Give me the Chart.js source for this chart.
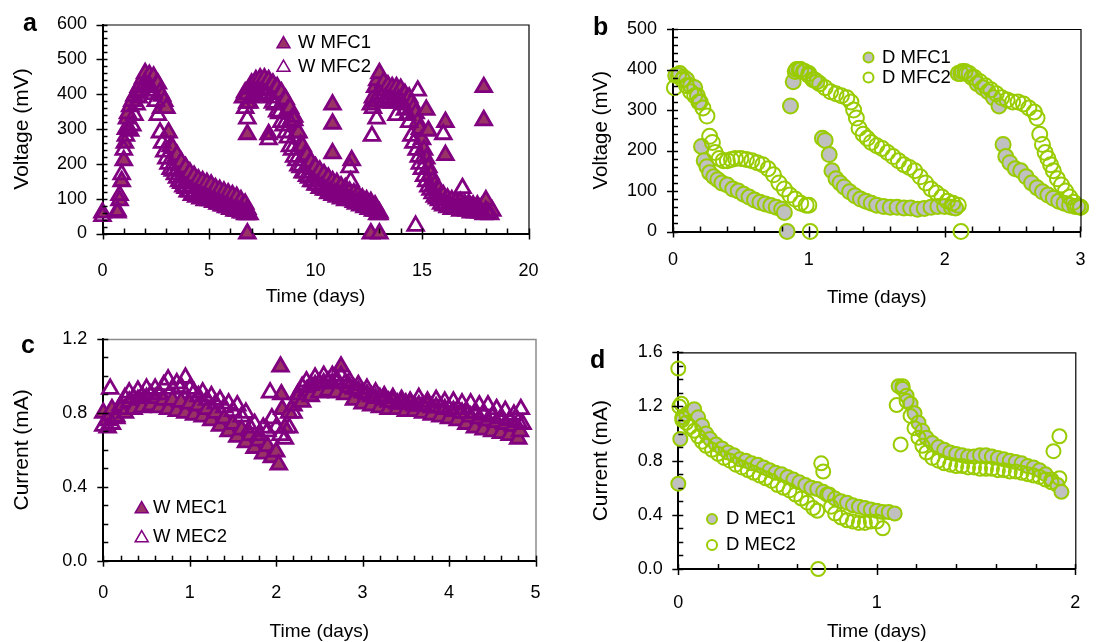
<!DOCTYPE html>
<html>
<head>
<meta charset="utf-8">
<script src="https://cdn.jsdelivr.net/npm/chart.js@4.4.1/dist/chart.umd.min.js"></script>
<style>
    html, body { margin: 0; padding: 0; background: #fff; }
    #wrap { position: relative; width: 1105px; height: 642px; overflow: hidden; }
    #wrap canvas { position: absolute; left: 0; top: 0; }
</style>
</head>
<body>
<div id="wrap">
    <canvas id="chartA" width="1105" height="642"></canvas>
    <canvas id="chartB" width="1105" height="642"></canvas>
    <canvas id="chartC" width="1105" height="642"></canvas>
    <canvas id="chartD" width="1105" height="642"></canvas>
</div>
<script>
// ---- Panel a: W MFC voltage, [days, mV] ----
const wMfc1 = [
    [0, 60], [0.7, 60], [0.8, 95], [0.9, 150], [1.0, 210], [1.05, 260], [1.1, 300], [1.15, 330], [1.2, 345],
    [1.3, 365], [1.4, 380], [1.5, 395], [1.6, 405], [1.7, 420], [1.8, 430], [1.9, 445], [2.0, 460],
    [2.1, 445], [2.2, 455], [2.3, 440], [2.4, 450], [2.5, 425], [2.6, 430], [2.7, 405], [2.75, 360],
    [2.8, 395], [2.9, 380], [3.0, 360], [3.1, 290], [3.2, 250], [3.3, 245], [3.4, 215], [3.5, 225],
    [3.6, 195], [3.7, 205], [3.8, 180], [3.9, 190], [4.0, 165], [4.1, 175], [4.2, 155], [4.3, 165],
    [4.4, 145], [4.5, 155], [4.6, 135], [4.7, 150], [4.8, 130], [4.9, 145], [5.0, 125], [5.1, 140],
    [5.2, 120], [5.3, 130], [5.4, 110], [5.5, 125], [5.6, 105], [5.7, 120], [5.8, 100], [5.9, 115],
    [6.0, 95], [6.1, 110], [6.2, 90], [6.3, 105], [6.4, 85], [6.5, 95], [6.6, 80], [6.7, 85],
    [6.8, 70], [6.9, 55],
    [6.8, 0], [6.8, 285], [6.8, 375], [7.8, 285],
    [6.6, 390], [6.7, 405], [6.8, 400], [6.9, 415], [7.0, 430], [7.1, 420], [7.2, 440], [7.3, 430],
    [7.4, 445], [7.5, 435], [7.6, 445], [7.7, 430], [7.8, 440], [7.9, 425], [8.0, 430], [8.1, 415],
    [8.2, 420], [8.3, 400], [8.4, 405], [8.5, 380], [8.6, 385], [8.7, 355], [8.8, 360], [8.9, 330],
    [9.0, 325], [9.1, 290], [9.2, 290], [9.3, 255], [9.4, 250], [9.5, 225], [9.6, 225], [9.7, 200],
    [9.8, 205], [9.9, 185], [10.0, 190], [10.1, 170], [10.2, 180], [10.3, 160], [10.4, 170], [10.5, 150],
    [10.6, 160], [10.7, 140], [10.8, 150], [10.9, 135], [11.0, 145], [11.1, 125], [11.2, 135], [11.3, 120],
    [11.4, 130], [11.5, 110], [11.6, 120], [11.7, 105], [11.8, 115], [11.9, 100], [12.0, 110], [12.1, 95],
    [12.2, 100], [12.3, 90], [12.4, 95], [12.5, 80], [12.6, 90], [12.7, 75], [12.8, 80], [12.9, 65], [13.0, 60],
    [10.8, 370], [10.8, 315], [10.8, 230], [11.7, 210], [12.6, 0], [13.0, 0],
    [12.6, 370], [12.7, 390], [12.8, 420], [12.9, 440], [13.0, 460], [13.1, 420], [13.2, 435], [13.3, 410],
    [13.4, 425], [13.5, 405], [13.6, 420], [13.7, 400], [13.8, 420], [13.9, 405], [14.0, 415], [14.1, 395],
    [14.2, 400], [14.3, 385], [14.4, 390], [14.5, 375], [14.6, 360], [14.7, 345], [14.8, 320], [14.9, 300],
    [15.0, 270], [15.1, 240], [15.2, 215], [15.3, 190], [15.4, 170], [15.5, 150], [15.6, 140], [15.7, 125],
    [15.8, 125], [15.9, 110], [16.0, 110], [16.1, 95], [16.2, 100], [16.3, 90], [16.4, 95], [16.5, 85],
    [16.6, 90], [16.7, 80], [16.8, 90], [16.9, 80], [17.0, 85], [17.1, 75], [17.2, 85], [17.3, 75],
    [17.4, 80], [17.5, 70], [17.6, 80], [17.7, 70], [17.8, 75], [17.9, 65], [18.0, 75], [18.1, 65],
    [18.2, 70], [18.3, 65],
    [15.2, 355], [15.3, 295], [16.1, 320], [16.1, 225], [17.9, 420], [17.9, 325], [18.0, 95],
];
const wMfc2 = [
    [0, 50], [0.7, 65], [0.8, 110], [0.9, 170], [1.0, 240], [1.1, 280], [1.2, 300], [1.3, 295], [1.4, 310],
    [1.5, 340], [1.6, 370], [1.7, 390], [1.8, 410], [1.9, 420], [2.0, 430], [2.1, 420], [2.2, 425],
    [2.3, 410], [2.4, 400], [2.5, 380], [2.6, 340], [2.7, 290], [2.8, 260], [2.9, 235], [3.0, 215],
    [3.1, 200], [3.2, 185], [3.3, 180], [3.4, 170], [3.5, 160], [3.6, 150], [3.7, 145], [3.8, 135],
    [3.9, 130], [4.0, 120], [4.1, 120], [4.2, 110], [4.3, 115], [4.4, 105], [4.5, 110], [4.6, 100],
    [4.7, 105], [4.8, 95], [4.9, 100], [5.0, 95], [5.1, 95], [5.2, 90], [5.3, 90], [5.4, 85], [5.5, 85],
    [5.6, 80], [5.7, 80], [5.8, 75], [5.9, 75], [6.0, 70], [6.1, 70], [6.2, 65], [6.3, 65], [6.4, 65],
    [6.5, 60], [6.6, 60], [6.7, 55], [6.8, 55],
    [6.7, 360], [6.8, 330], [6.9, 375], [7.0, 390], [7.1, 400], [7.2, 395], [7.3, 410], [7.4, 400],
    [7.5, 410], [7.6, 395], [7.7, 400], [7.8, 270], [7.9, 390], [8.0, 375], [8.1, 370], [8.2, 350],
    [8.3, 345], [8.4, 320], [8.5, 310], [8.6, 290], [8.7, 275], [8.8, 250], [8.9, 240], [9.0, 220],
    [9.1, 210], [9.2, 195], [9.3, 190], [9.4, 175], [9.5, 175], [9.6, 165], [9.7, 160], [9.8, 150],
    [9.9, 150], [10.0, 140], [10.1, 140], [10.2, 130], [10.3, 135], [10.4, 125], [10.5, 125], [10.6, 115],
    [10.7, 120], [10.8, 110], [10.9, 115], [11.0, 105], [11.1, 110], [11.2, 100], [11.3, 105], [11.4, 95],
    [11.5, 100], [11.6, 190], [11.65, 150], [11.7, 95], [11.8, 90], [11.9, 85], [12.0, 90], [12.1, 80],
    [12.2, 85], [12.3, 75], [12.4, 80], [12.5, 70], [12.6, 75], [12.7, 65], [12.8, 65], [12.9, 55], [13.0, 55],
    [8.8, 320], [9.0, 335],
    [12.65, 280], [12.7, 360], [12.8, 380], [12.87, 330], [13.0, 400], [13.1, 390], [13.2, 375], [13.3, 390],
    [13.4, 380], [13.5, 385], [13.6, 375], [13.7, 380], [13.8, 340], [13.9, 385], [14.0, 380], [14.1, 370],
    [14.2, 355], [14.3, 340], [14.4, 320], [14.5, 280], [14.6, 260], [14.7, 22], [14.75, 240], [14.8, 410],
    [14.85, 220], [14.9, 200], [15.0, 185], [15.1, 165], [15.2, 150], [15.3, 135], [15.4, 125], [15.5, 115],
    [15.6, 105], [15.7, 100], [15.8, 95], [15.9, 85], [16.0, 80], [16.0, 285], [16.1, 85], [16.2, 75],
    [16.3, 80], [16.4, 70], [16.5, 75], [16.6, 70], [16.7, 75], [16.8, 65], [16.9, 130], [17.0, 70],
    [17.1, 65], [17.2, 70], [17.3, 60], [17.4, 70], [17.5, 60], [17.6, 65], [17.7, 60], [17.8, 60],
    [17.9, 55], [18.0, 65], [18.1, 60], [18.2, 55],
];
const aXTicks = [0, 5, 10, 15, 20];
const aYTicks = [0, 100, 200, 300, 400, 500, 600];

// ---- Panel b: D MFC voltage, [days, mV] ----
const dMfc1 = [
    [0.02, 385], [0.05, 390], [0.08, 380], [0.1, 375], [0.13, 360], [0.16, 355], [0.18, 335], [0.2, 320],
    [0.21, 210], [0.23, 175], [0.25, 160], [0.27, 145], [0.3, 135], [0.33, 128], [0.36, 120], [0.4, 115],
    [0.44, 105], [0.48, 100], [0.52, 92], [0.56, 85], [0.6, 78], [0.64, 72], [0.68, 68], [0.72, 64],
    [0.76, 60], [0.8, 55], [0.82, 47], [0.84, 0], [0.865, 310], [0.885, 370],
    [0.9, 395], [0.93, 400], [0.96, 395], [1.0, 385], [1.03, 375], [1.06, 370], [1.1, 230], [1.12, 225],
    [1.15, 190], [1.17, 150], [1.2, 130], [1.23, 120], [1.26, 110], [1.3, 98], [1.34, 88], [1.38, 80],
    [1.42, 75], [1.46, 70], [1.5, 65], [1.55, 62], [1.6, 60], [1.65, 60], [1.7, 58], [1.75, 58],
    [1.8, 55], [1.85, 57], [1.9, 60], [1.95, 62], [2.0, 62], [2.05, 60], [2.08, 58],
    [2.1, 390], [2.13, 395], [2.16, 390], [2.2, 380], [2.24, 365], [2.28, 355], [2.32, 345], [2.36, 330],
    [2.4, 310], [2.43, 215], [2.45, 185], [2.48, 170], [2.52, 155], [2.56, 150], [2.6, 135], [2.64, 120],
    [2.68, 108], [2.72, 98], [2.76, 90], [2.8, 82], [2.84, 75], [2.88, 70], [2.92, 65], [2.96, 62], [3.0, 60],
];
const dMfc2 = [
    [0.01, 355], [0.04, 385], [0.07, 375], [0.1, 360], [0.13, 345], [0.16, 335], [0.19, 320], [0.22, 305],
    [0.25, 285], [0.27, 235], [0.29, 220], [0.31, 195], [0.34, 180], [0.37, 175], [0.4, 175], [0.43, 178],
    [0.46, 180], [0.5, 180], [0.54, 178], [0.58, 175], [0.62, 170], [0.66, 165], [0.7, 155], [0.74, 140],
    [0.78, 120], [0.82, 105], [0.86, 90], [0.9, 80], [0.94, 70], [0.98, 65], [1.0, 65], [1.01, 0],
    [0.91, 400], [0.94, 400], [0.97, 395], [1.0, 390], [1.04, 375], [1.08, 365], [1.12, 355], [1.16, 345],
    [1.2, 340], [1.24, 335], [1.28, 330], [1.31, 320], [1.33, 300], [1.35, 280], [1.37, 255], [1.4, 240],
    [1.43, 230], [1.46, 220], [1.5, 212], [1.54, 205], [1.58, 195], [1.62, 185], [1.66, 175], [1.7, 165],
    [1.74, 158], [1.78, 150], [1.82, 135], [1.86, 120], [1.9, 105], [1.94, 95], [1.98, 85], [2.02, 75],
    [2.06, 70], [2.1, 65], [2.12, 0],
    [2.12, 390], [2.15, 395], [2.18, 390], [2.22, 380], [2.26, 370], [2.3, 360], [2.34, 350], [2.38, 340],
    [2.42, 330], [2.46, 325], [2.5, 320], [2.54, 320], [2.58, 315], [2.62, 305], [2.66, 295], [2.68, 280],
    [2.7, 240], [2.72, 215], [2.74, 195], [2.76, 180], [2.78, 165], [2.8, 150], [2.83, 130], [2.86, 115],
    [2.89, 100], [2.92, 85], [2.95, 72], [2.98, 62], [3.0, 60],
];
const bXTicks = [0, 1, 2, 3];
const bYTicks = [0, 100, 200, 300, 400, 500];

// ---- Panel c: W MEC current, [days, mA] ----
const wMec1 = [
    [0.0, 0.80], [0.05, 0.76], [0.1, 0.82], [0.15, 0.78], [0.2, 0.84], [0.25, 0.80], [0.3, 0.86], [0.35, 0.82],
    [0.4, 0.87], [0.45, 0.83], [0.5, 0.88], [0.55, 0.84], [0.6, 0.88], [0.65, 0.83], [0.7, 0.87], [0.75, 0.82],
    [0.8, 0.87], [0.85, 0.81], [0.9, 0.86], [0.95, 0.80], [1.0, 0.85], [1.05, 0.79], [1.1, 0.84], [1.15, 0.78],
    [1.2, 0.82], [1.25, 0.76], [1.3, 0.80], [1.35, 0.73], [1.4, 0.77], [1.45, 0.70], [1.5, 0.74], [1.55, 0.67],
    [1.6, 0.71], [1.65, 0.64], [1.7, 0.68], [1.75, 0.61], [1.8, 0.65], [1.85, 0.58], [1.9, 0.62], [1.95, 0.56],
    [2.0, 0.59], [2.03, 0.52], [2.05, 1.05], [2.06, 0.90], [2.07, 0.82], [2.1, 0.72], [2.15, 0.80], [2.2, 0.84],
    [2.25, 0.88], [2.3, 0.86], [2.35, 0.92], [2.4, 0.89], [2.45, 0.95], [2.5, 0.91], [2.55, 0.96], [2.6, 0.92],
    [2.65, 0.96], [2.7, 0.91], [2.75, 1.05], [2.8, 0.90], [2.85, 0.94], [2.9, 0.87], [2.95, 0.92], [3.0, 0.85],
    [3.05, 0.90], [3.1, 0.84], [3.15, 0.88], [3.2, 0.83], [3.25, 0.87], [3.3, 0.82], [3.35, 0.86], [3.4, 0.82],
    [3.45, 0.85], [3.5, 0.81], [3.55, 0.85], [3.6, 0.81], [3.65, 0.84], [3.7, 0.80], [3.75, 0.84], [3.8, 0.79],
    [3.85, 0.83], [3.9, 0.78], [3.95, 0.82], [4.0, 0.77], [4.05, 0.81], [4.1, 0.76], [4.15, 0.80], [4.2, 0.74],
    [4.25, 0.78], [4.3, 0.72], [4.35, 0.77], [4.4, 0.71], [4.45, 0.76], [4.5, 0.70], [4.55, 0.75], [4.6, 0.69],
    [4.65, 0.74], [4.7, 0.68], [4.75, 0.73], [4.8, 0.66], [4.82, 0.70],
];
const wMec2 = [
    [0.0, 0.73], [0.05, 0.72], [0.08, 0.93], [0.1, 0.74], [0.15, 0.77], [0.2, 0.82], [0.25, 0.88], [0.3, 0.91],
    [0.35, 0.88], [0.4, 0.92], [0.45, 0.89], [0.5, 0.93], [0.55, 0.90], [0.6, 0.93], [0.65, 0.90], [0.7, 0.95],
    [0.75, 0.98], [0.8, 0.93], [0.85, 0.96], [0.9, 0.94], [0.95, 0.99], [1.0, 0.93], [1.05, 0.91], [1.1, 0.89],
    [1.15, 0.91], [1.2, 0.87], [1.25, 0.89], [1.3, 0.85], [1.35, 0.87], [1.4, 0.83], [1.45, 0.85], [1.5, 0.81],
    [1.55, 0.84], [1.6, 0.78], [1.65, 0.80], [1.7, 0.72], [1.75, 0.74], [1.8, 0.68], [1.85, 0.72], [1.9, 0.70],
    [1.93, 0.91], [1.95, 0.77], [2.0, 0.72], [2.05, 0.68], [2.1, 0.66], [2.15, 0.72], [2.2, 0.80], [2.25, 0.90],
    [2.3, 0.94], [2.35, 0.97], [2.4, 0.95], [2.45, 0.99], [2.5, 0.96], [2.55, 1.00], [2.6, 0.97], [2.65, 1.00],
    [2.7, 0.98], [2.75, 1.00], [2.8, 0.96], [2.85, 0.97], [2.9, 0.93], [2.95, 0.95], [3.0, 0.91], [3.05, 0.93],
    [3.1, 0.89], [3.15, 0.91], [3.2, 0.88], [3.25, 0.89], [3.3, 0.86], [3.35, 0.88], [3.4, 0.85], [3.45, 0.87],
    [3.5, 0.85], [3.55, 0.86], [3.6, 0.84], [3.65, 0.88], [3.7, 0.84], [3.75, 0.86], [3.8, 0.83], [3.85, 0.87],
    [3.9, 0.83], [3.95, 0.86], [4.0, 0.82], [4.05, 0.86], [4.1, 0.82], [4.15, 0.85], [4.2, 0.80], [4.25, 0.85],
    [4.3, 0.80], [4.35, 0.84], [4.4, 0.79], [4.45, 0.84], [4.5, 0.78], [4.55, 0.82], [4.6, 0.77], [4.65, 0.81],
    [4.7, 0.76], [4.75, 0.79], [4.8, 0.75], [4.83, 0.82], [4.85, 0.74],
];
const cXTicks = [0, 1, 2, 3, 4, 5];
const cYTicks = [0, 0.4, 0.8, 1.2];

// ---- Panel d: D MEC current, [days, mA] ----
const dMec1 = [
    [0.0, 0.63], [0.01, 0.96], [0.02, 1.10], [0.04, 1.14], [0.06, 1.16], [0.08, 1.18], [0.1, 1.12], [0.12, 1.06],
    [0.14, 1.00], [0.16, 0.96], [0.19, 0.92], [0.22, 0.89], [0.25, 0.86], [0.28, 0.84], [0.31, 0.81], [0.34, 0.80],
    [0.37, 0.78], [0.4, 0.77], [0.43, 0.75], [0.46, 0.73], [0.49, 0.71], [0.52, 0.70], [0.55, 0.68], [0.58, 0.66],
    [0.61, 0.64], [0.64, 0.62], [0.67, 0.60], [0.7, 0.59], [0.73, 0.57], [0.76, 0.55], [0.79, 0.52], [0.82, 0.50],
    [0.85, 0.49], [0.88, 0.47], [0.91, 0.46], [0.94, 0.45], [0.97, 0.44], [1.0, 0.43], [1.03, 0.42], [1.06, 0.42],
    [1.09, 0.41],
    [1.11, 1.35], [1.13, 1.33], [1.15, 1.28], [1.17, 1.22], [1.19, 1.15], [1.21, 1.08], [1.23, 1.02], [1.25, 0.97],
    [1.28, 0.93], [1.31, 0.90], [1.34, 0.88], [1.37, 0.86], [1.4, 0.85], [1.43, 0.84], [1.46, 0.83], [1.49, 0.83],
    [1.52, 0.84], [1.55, 0.84], [1.58, 0.83], [1.61, 0.82], [1.64, 0.81], [1.67, 0.80], [1.7, 0.79], [1.73, 0.78],
    [1.76, 0.76], [1.79, 0.75], [1.82, 0.73], [1.85, 0.70], [1.88, 0.66], [1.91, 0.62], [1.93, 0.57],
];
const dMec2 = [
    [0.0, 1.48], [0.005, 1.20], [0.015, 1.22], [0.02, 1.12], [0.04, 1.08], [0.06, 1.05], [0.08, 1.02], [0.1, 0.98],
    [0.12, 0.94], [0.14, 0.91], [0.17, 0.88], [0.2, 0.85], [0.23, 0.82], [0.26, 0.80], [0.29, 0.77], [0.32, 0.75],
    [0.35, 0.73], [0.38, 0.71], [0.41, 0.69], [0.44, 0.67], [0.47, 0.65], [0.5, 0.62], [0.53, 0.60], [0.56, 0.58],
    [0.59, 0.55], [0.62, 0.52], [0.65, 0.49], [0.68, 0.45], [0.7, 0.43], [0.705, 0.0], [0.72, 0.78], [0.73, 0.72],
    [0.75, 0.55], [0.77, 0.46], [0.79, 0.41], [0.82, 0.38], [0.85, 0.36], [0.88, 0.35], [0.91, 0.34], [0.94, 0.34],
    [0.97, 0.35], [1.0, 0.35], [1.03, 0.30],
    [1.1, 1.21], [1.12, 0.92], [1.13, 1.35], [1.15, 1.24], [1.17, 1.13], [1.19, 1.04], [1.21, 0.97], [1.23, 0.91],
    [1.25, 0.86], [1.28, 0.82], [1.31, 0.80], [1.34, 0.78], [1.37, 0.77], [1.4, 0.76], [1.43, 0.76], [1.46, 0.75],
    [1.49, 0.75], [1.52, 0.74], [1.55, 0.74], [1.58, 0.74], [1.61, 0.73], [1.64, 0.73], [1.67, 0.72], [1.7, 0.72],
    [1.73, 0.71], [1.76, 0.70], [1.79, 0.69], [1.82, 0.68], [1.85, 0.66], [1.88, 0.64], [1.89, 0.87], [1.92, 0.98],
    [1.92, 0.67],
];
const dXTicks = [0, 1, 2];
const dYTicks = [0, 0.4, 0.8, 1.2, 1.6];

const FONT = "'Liberation Sans', Arial, Helvetica, sans-serif";
const PURPLE = "#800080";
const MAUVE = "#993366";
const GREEN = "#99cc00";
const GREY = "#c0c0c0";

Chart.defaults.font.family = FONT;
Chart.defaults.color = "#000";

function toPoints(list) {
    return list.map((p) => ({ x: p[0], y: p[1] }));
}

function triPath(ctx, x, y, r) {
    ctx.beginPath();
    for (let k = 0; k < 3; k++) {
        const a = (k * 2 * Math.PI) / 3;
        const px = x + Math.sin(a) * r;
        const py = y - Math.cos(a) * r;
        if (k === 0) ctx.moveTo(px, py);
        else ctx.lineTo(px, py);
    }
    ctx.closePath();
}

// ticks, frame, legend and panel letter
function decorPlugin(p) {
    return {
        id: "decor" + p.letter,
        afterDraw(chart) {
            const ctx = chart.ctx;
            const area = chart.chartArea;
            const xs = chart.scales.x;
            const ys = chart.scales.y;
            ctx.save();

            // top / right frame
            ctx.strokeStyle = p.frame;
            ctx.lineWidth = p.frameWidth;
            ctx.beginPath();
            ctx.moveTo(area.left, area.top + 0.5);
            ctx.lineTo(area.right + 0.5, area.top + 0.5);
            ctx.lineTo(area.right + 0.5, area.bottom);
            ctx.stroke();

            // tick marks
            ctx.strokeStyle = "#000";
            ctx.lineWidth = 1.5;
            const xMin = p.xTicks[0], xMax = p.xTicks[p.xTicks.length - 1];
            for (let i = 0; xMin + i * p.xMinor <= xMax + 1e-9; i++) {
                const v = xMin + i * p.xMinor;
                const major = p.xTicks.some((t) => Math.abs(t - v) < 1e-6);
                const px = Math.round(xs.getPixelForValue(v)) + 0.5;
                ctx.beginPath();
                ctx.moveTo(px, area.bottom - 5);
                ctx.lineTo(px, area.bottom + (major ? 6 : 0));
                ctx.stroke();
            }
            const yMin = p.yTicks[0], yMax = p.yTicks[p.yTicks.length - 1];
            for (let i = 0; yMin + i * p.yMinor <= yMax + 1e-9; i++) {
                const v = yMin + i * p.yMinor;
                const major = p.yTicks.some((t) => Math.abs(t - v) < 1e-6);
                const py = Math.round(ys.getPixelForValue(v)) + 0.5;
                ctx.beginPath();
                ctx.moveTo(area.left - (major ? 6 : 0), py);
                ctx.lineTo(area.left + 5, py);
                ctx.stroke();
            }

            // legend
            ctx.font = "18.5px " + FONT;
            ctx.textBaseline = "middle";
            ctx.textAlign = "left";
            p.legend.items.forEach((it, i) => {
                const cy = p.legend.y + i * p.legend.gap;
                const cx = p.legend.x;
                ctx.lineWidth = it.bw;
                ctx.strokeStyle = it.stroke;
                ctx.fillStyle = it.fill;
                if (it.style === "triangle") triPath(ctx, cx, cy + 1, it.r);
                else {
                    ctx.beginPath();
                    ctx.arc(cx, cy, it.r, 0, 2 * Math.PI);
                }
                if (it.fill !== "transparent") ctx.fill();
                ctx.stroke();
                ctx.fillStyle = "#000";
                ctx.fillText(it.label, p.legend.textX, cy);
            });

            // panel letter
            ctx.font = "bold 25px " + FONT;
            ctx.textBaseline = "alphabetic";
            ctx.fillStyle = "#000";
            ctx.fillText(p.letter, p.letterX, p.letterY);
            ctx.restore();
        },
    };
}

function makePanel(id, p) {
    const xMin = p.xTicks[0], xMax = p.xTicks[p.xTicks.length - 1];
    const yMin = p.yTicks[0], yMax = p.yTicks[p.yTicks.length - 1];
    new Chart(document.getElementById(id), {
        type: "scatter",
        data: { datasets: p.datasets },
        options: {
            responsive: false,
            animation: false,
            events: [],
            layout: {
                autoPadding: false,
                padding: { left: p.padL, top: p.T, right: 1105 - p.R, bottom: 642 - p.B - p.xH },
            },
            plugins: { legend: { display: false }, tooltip: { enabled: false } },
            scales: {
                x: {
                    type: "linear",
                    position: "bottom",
                    min: xMin,
                    max: xMax,
                    afterFit: (s) => { s.height = p.xH; },
                    afterBuildTicks: (s) => { s.ticks = p.xTicks.map((v) => ({ value: v })); },
                    grid: { display: false, drawTicks: false },
                    border: { display: true, color: "#000", width: 2 },
                    ticks: {
                        padding: p.xPad,
                        autoSkip: false,
                        maxRotation: 0,
                        color: "#000",
                        font: { size: 18, lineHeight: 1 },
                        callback: (v) => String(v),
                    },
                    title: {
                        display: true,
                        text: "Time (days)",
                        color: "#000",
                        padding: 0,
                        font: { size: 19, lineHeight: 1 },
                    },
                },
                y: {
                    type: "linear",
                    position: "left",
                    min: yMin,
                    max: yMax,
                    afterFit: (s) => { s.width = p.L - p.padL; },
                    afterBuildTicks: (s) => { s.ticks = p.yTicks.map((v) => ({ value: v })); },
                    grid: { display: false, drawTicks: false },
                    border: { display: true, color: "#000", width: 2 },
                    ticks: {
                        padding: p.yPad,
                        autoSkip: false,
                        color: "#000",
                        font: { size: 18, lineHeight: 1 },
                        callback: (v) => (p.yDec ? Number(v).toFixed(p.yDec) : String(v)),
                    },
                    title: {
                        display: true,
                        text: p.yTitle,
                        color: "#000",
                        padding: 0,
                        font: { size: p.yTitleSize, lineHeight: 1 },
                    },
                },
            },
        },
        plugins: [decorPlugin(p)],
    });
}

const triFilled = { pointStyle: "triangle", backgroundColor: MAUVE, borderColor: PURPLE, borderWidth: 2.8, clip: false };
const triOpen = { pointStyle: "triangle", backgroundColor: "transparent", borderColor: PURPLE, borderWidth: 2.8, clip: false };
const dotFilled = { pointStyle: "circle", backgroundColor: GREY, borderColor: GREEN, borderWidth: 2, clip: false };
const dotOpen = { pointStyle: "circle", backgroundColor: "transparent", borderColor: GREEN, borderWidth: 2, clip: false };

// a
makePanel("chartA", {
    letter: "a", letterX: 23, letterY: 31,
    L: 102.5, R: 528.5, T: 22.5, B: 233.5, padL: 11.5, xH: 73, xPad: 29, yPad: 15.5,
    xTicks: aXTicks, yTicks: aYTicks, xMinor: 1, yMinor: 20,
    yTitle: "Voltage (mV)", yTitleSize: 21, frame: "#000", frameWidth: 1.2,
    datasets: [
        Object.assign({ label: "W MFC2", data: toPoints(wMfc2), pointRadius: 9, order: 1 }, triOpen),
        Object.assign({ label: "W MFC1", data: toPoints(wMfc1), pointRadius: 9, order: 2 }, triFilled),
    ],
    legend: {
        x: 283.5, y: 43, gap: 23.5, textX: 298,
        items: [
            { label: "W MFC1", style: "triangle", fill: MAUVE, stroke: PURPLE, r: 7.5, bw: 1.5 },
            { label: "W MFC2", style: "triangle", fill: "transparent", stroke: PURPLE, r: 7.5, bw: 1.5 },
        ],
    },
});

// b
makePanel("chartB", {
    letter: "b", letterX: 593, letterY: 35,
    L: 673, R: 1093, T: 29, B: 231.5, padL: 590.75, xH: 76, xPad: 19.5, yPad: 16,
    xTicks: bXTicks, yTicks: bYTicks, xMinor: 0.2, yMinor: 20,
    yTitle: "Voltage (mV)", yTitleSize: 20.5, frame: "#000", frameWidth: 1.2,
    datasets: [
        Object.assign({ label: "D MFC2", data: toPoints(dMfc2), pointRadius: 7.5, order: 1 }, dotOpen),
        Object.assign({ label: "D MFC1", data: toPoints(dMfc1), pointRadius: 7.5, order: 2 }, dotFilled),
    ],
    legend: {
        x: 868.5, y: 57.5, gap: 20, textX: 882,
        items: [
            { label: "D MFC1", style: "circle", fill: GREY, stroke: GREEN, r: 5, bw: 2 },
            { label: "D MFC2", style: "circle", fill: "transparent", stroke: GREEN, r: 5, bw: 2 },
        ],
    },
});

// c
makePanel("chartC", {
    letter: "c", letterX: 21, letterY: 353,
    L: 103.3, R: 535.5, T: 339, B: 560.7, padL: 11.5, xH: 80.8, xPad: 23.3, yPad: 16,
    xTicks: cXTicks, yTicks: cYTicks, xMinor: 0.2, yMinor: 0.1, yDec: 1,
    yTitle: "Current (mA)", yTitleSize: 21, frame: "#8c8c8c", frameWidth: 1.5,
    datasets: [
        Object.assign({ label: "W MEC2", data: toPoints(wMec2), pointRadius: 9, order: 1 }, triOpen),
        Object.assign({ label: "W MEC1", data: toPoints(wMec1), pointRadius: 9, order: 2 }, triFilled),
    ],
    legend: {
        x: 141.7, y: 508, gap: 29, textX: 153,
        items: [
            { label: "W MEC1", style: "triangle", fill: MAUVE, stroke: PURPLE, r: 7.5, bw: 1.5 },
            { label: "W MEC2", style: "triangle", fill: "transparent", stroke: PURPLE, r: 7.5, bw: 1.5 },
        ],
    },
});

// d
makePanel("chartD", {
    letter: "d", letterX: 590, letterY: 368,
    L: 678.3, R: 1098, T: 352.3, B: 569, padL: 590.5, xH: 72.5, xPad: 24.7, yPad: 15.6,
    xTicks: dXTicks, yTicks: dYTicks, xMinor: 0.2, yMinor: 0.1, yDec: 1,
    yTitle: "Current (mA)", yTitleSize: 21, frame: "#000", frameWidth: 1.2,
    datasets: [
        Object.assign({ label: "D MEC2", data: toPoints(dMec2), pointRadius: 7, order: 1 }, dotOpen),
        Object.assign({ label: "D MEC1", data: toPoints(dMec1), pointRadius: 7, order: 2 }, dotFilled),
    ],
    legend: {
        x: 712, y: 519, gap: 26, textX: 726,
        items: [
            { label: "D MEC1", style: "circle", fill: GREY, stroke: GREEN, r: 5, bw: 2 },
            { label: "D MEC2", style: "circle", fill: "transparent", stroke: GREEN, r: 5, bw: 2 },
        ],
    },
});
</script>
</body>
</html>
